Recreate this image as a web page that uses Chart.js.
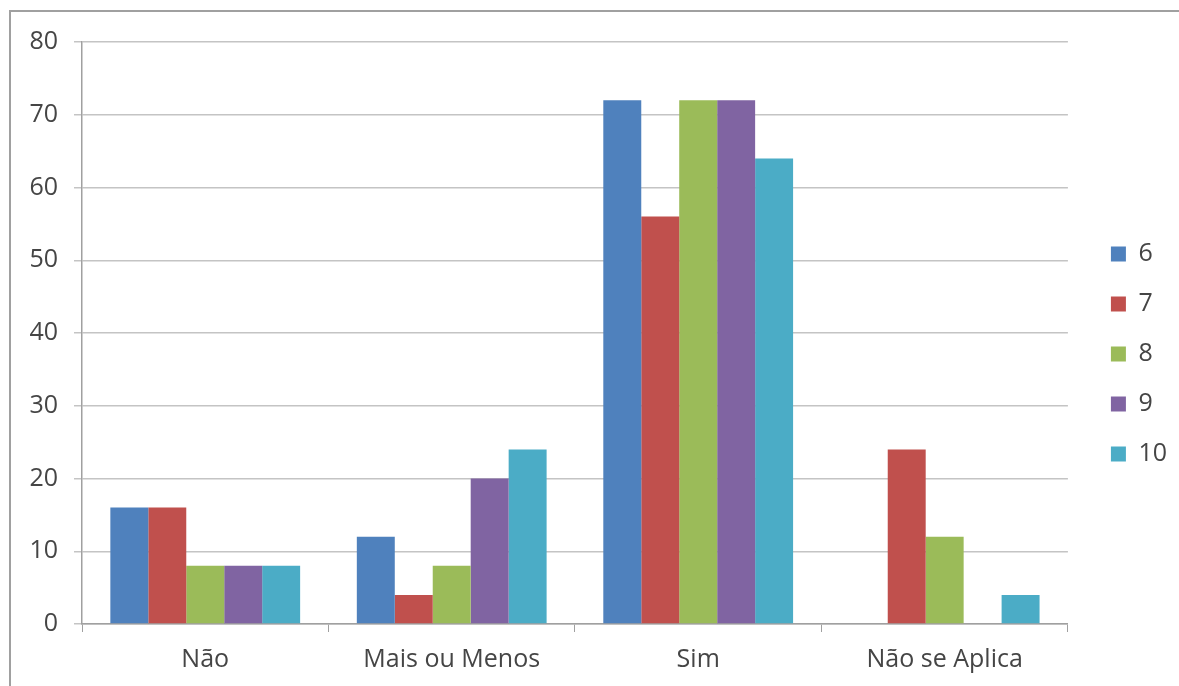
<!DOCTYPE html>
<html>
<head>
<meta charset="utf-8">
<script src="https://cdn.jsdelivr.net/npm/chart.js@4"></script>
<style>
  html, body { margin: 0; padding: 0; background: #fff; }
  #wrap { position: relative; width: 1179px; height: 686px; overflow: hidden; }
  #frame { position: absolute; left: 9px; top: 10px; width: 1300px; height: 800px;
           border-left: 2px solid #a0a0a0; border-top: 2px solid #a0a0a0; }
  canvas { position: absolute; left: 0; top: 0; }
</style>
</head>
<body>
<div id="wrap">
  <div id="frame"></div>
  <canvas id="grafico" width="1179" height="686"></canvas>
</div>
<script>
// categorias do eixo x
const categorias = ['Não', 'Mais ou Menos', 'Sim', 'Não se Aplica'];

// séries (legenda 6..10)
const serie6 = [16, 12, 72, 0];
const serie7 = [16, 4, 56, 24];
const serie8 = [8, 8, 72, 12];
const serie9 = [8, 20, 72, 0];
const serie10 = [8, 24, 64, 4];

const nomesSeries = ['6', '7', '8', '9', '10'];
const cores = ['#4F81BD', '#C0504D', '#9BBB59', '#8064A2', '#4BACC6'];

// ticks do eixo y
const yMin = 0;
const yMax = 80;
const yPasso = 10;

const valores = [serie6, serie7, serie8, serie9, serie10];

const fonte = { family: "'Open Sans', sans-serif", size: 25 };
const corTexto = '#454545';

// empurra a legenda um pouco para a direita e para cima, como no original
const ajusteLegenda = {
    id: 'ajusteLegenda',
    afterLayout(chart) {
        const lg = chart.legend;
        if (!lg) return;
        lg.left += 18; lg.right += 18;
        lg.top -= 10; lg.bottom -= 10;
    }
};

new Chart(document.getElementById('grafico'), {
    type: 'bar',
    data: {
        labels: categorias,
        datasets: valores.map((v, i) => ({
            label: nomesSeries[i],
            data: v,
            backgroundColor: cores[i],
            borderWidth: 0,
            barPercentage: 1,
            categoryPercentage: 0.77
        }))
    },
    options: {
        responsive: false,
        animation: false,
        layout: { padding: { top: 42, right: 20, bottom: 0, left: 0 } },
        plugins: {
            legend: {
                position: 'right',
                labels: {
                    boxWidth: 15,
                    boxHeight: 15,
                    padding: 25,
                    color: corTexto,
                    font: fonte
                }
            },
            tooltip: { enabled: false }
        },
        scales: {
            x: {
                grid: { offset: true, drawOnChartArea: false, drawTicks: true, tickLength: 8, color: '#a0a0a0' },
                border: { color: '#a0a0a0', width: 1.5 },
                ticks: { color: corTexto, font: fonte, padding: 13, maxRotation: 0 },
                afterFit: (s) => { s.height = 62; }
            },
            y: {
                min: yMin,
                max: yMax,
                ticks: { stepSize: yPasso, color: corTexto, font: fonte, padding: 16 },
                grid: { color: '#c4c4c4', lineWidth: 1.5, tickLength: 8 },
                border: { color: '#a0a0a0', width: 1.5 },
                afterFit: (s) => { s.width = 82; }
            }
        }
    },
    plugins: [ajusteLegenda]
});
</script>
</body>
</html>
